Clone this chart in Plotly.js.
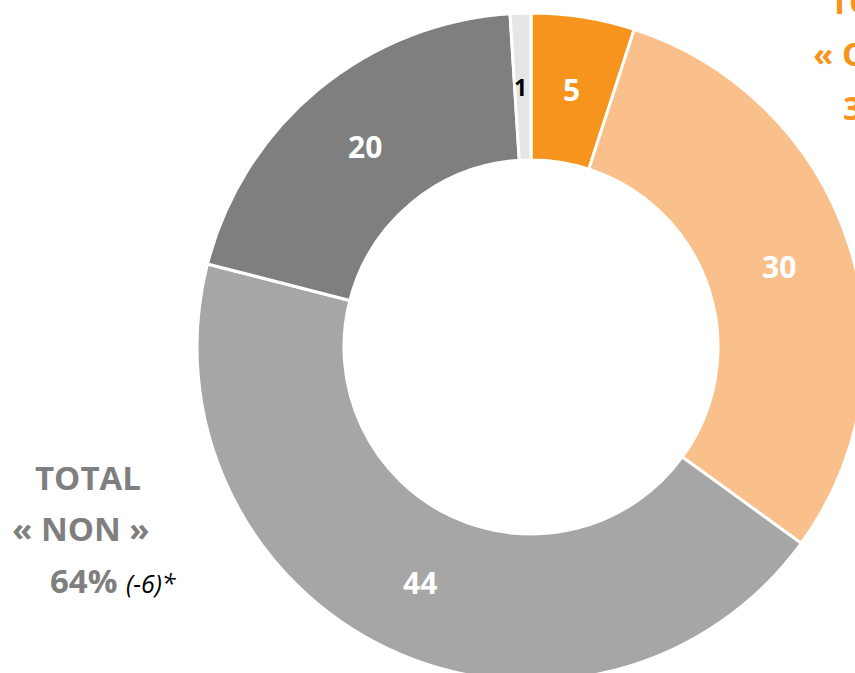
<!DOCTYPE html>
<html><head><meta charset="utf-8">
<script src="https://cdn.plot.ly/plotly-3.0.1.min.js"></script>
<style>html,body{margin:0;padding:0;overflow:hidden;background:#fff}#c{width:880px;height:690px}</style>
</head><body><div id="c"></div>
<script>
const categories = ["Oui, tout à fait", "Oui, plutôt", "Non, plutôt pas", "Non, pas du tout", "Ne se prononce pas"];
const values = [5, 30, 44, 20, 1];
const colors = ["#F7941D", "#F9C08C", "#A6A6A6", "#7F7F7F", "#E6E6E6"];
const labelColors = ["#FFFFFF", "#FFFFFF", "#FFFFFF", "#FFFFFF", "#000000"];
const labelSizes = [30, 30, 30, 30, 23];
const totalNon = {label: "« NON »", value: 64, change: "(-6)*"};
const totalOui = {label: "« OUI »", value: 35, change: "(+6)*"};

const W = 880, H = 690;
const px = x => x / W;
const py = y => 1 - y / H;

const cx = 531, cy = 347, R = 334, HOLE = 0.56;
const total = values.reduce((a, b) => a + b, 0);

const trace = {
  type: "pie",
  labels: categories,
  values: values,
  sort: false,
  direction: "clockwise",
  rotation: 0,
  hole: HOLE,
  domain: {x: [px(cx - R), px(cx + R)], y: [py(cy + R), py(cy - R)]},
  marker: {colors: colors, line: {color: "#FFFFFF", width: 3}},
  textinfo: "none",
  textposition: "none",
  hoverinfo: "none",
  showlegend: false
};

const bigFont = {family: "Open Sans, sans-serif", size: 33};
const changeSpan = c => " <i><span style='font-size:25px;color:#000000'>" + c + "</span></i>";
const ann = [
  {text: "<b>TOTAL</b>", x: px(33), y: py(477), xanchor: "left", yanchor: "middle", font: Object.assign({}, bigFont, {color: "#7F7F7F"})},
  {text: "<b>" + totalNon.label + "</b>", x: px(10), y: py(528), xanchor: "left", yanchor: "middle", font: Object.assign({}, bigFont, {color: "#7F7F7F"})},
  {text: "<b>" + totalNon.value + "%</b>" + changeSpan(totalNon.change), x: px(48), y: py(580), xanchor: "left", yanchor: "middle", font: Object.assign({}, bigFont, {color: "#7F7F7F"})},
  {text: "<b>TOTAL</b>", x: px(828), y: py(2), xanchor: "left", yanchor: "middle", font: Object.assign({}, bigFont, {color: "#F7941D"})},
  {text: "<b>" + totalOui.label + "</b>", x: px(811), y: py(54), xanchor: "left", yanchor: "middle", font: Object.assign({}, bigFont, {color: "#F7941D"})},
  {text: "<b>" + totalOui.value + "%</b>" + changeSpan(totalOui.change), x: px(841), y: py(107), xanchor: "left", yanchor: "middle", font: Object.assign({}, bigFont, {color: "#F7941D"})}
];
// value labels at the middle of the ring, at each slice's mid angle
let cum = 0;
const rm = R * (1 + HOLE) / 2;
values.forEach((v, i) => {
  const mid = (cum + v / 2) / total * 2 * Math.PI;
  cum += v;
  ann.push({text: "<b>" + v + "</b>", x: px(cx + rm * Math.sin(mid) - (v / total < 0.03 ? 2 : 0)), y: py(cy - rm * Math.cos(mid)),
    xanchor: "center", yanchor: "middle", font: {family: "Open Sans, sans-serif", size: labelSizes[i], color: labelColors[i]}});
});

Plotly.newPlot("c", [trace], {
  width: W, height: H,
  margin: {l: 0, r: 0, t: 0, b: 0},
  paper_bgcolor: "#FFFFFF",
  annotations: ann.map(a => Object.assign({xref: "paper", yref: "paper", showarrow: false}, a)),
  showlegend: false
}, {staticPlot: true, displayModeBar: false});
</script></body></html>
